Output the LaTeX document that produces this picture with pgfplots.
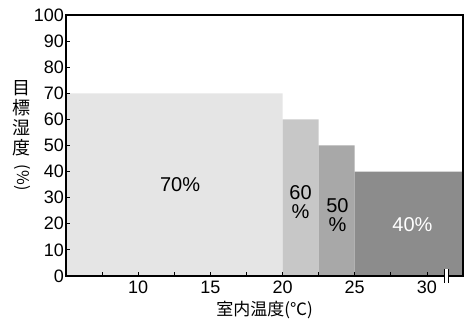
\documentclass[border=0pt]{standalone}
\usepackage{pgfplots}
\pgfplotsset{compat=1.18}
\usepackage{fontspec}
\setmainfont{Liberation Sans}
\newfontfamily\jp{Noto Sans CJK JP}
\definecolor{cA}{gray}{0.90}
\definecolor{cB}{gray}{0.78}
\definecolor{cC}{gray}{0.66}
\definecolor{cD}{gray}{0.55}
\begin{document}
\begin{tikzpicture}
\begin{axis}[
  scale only axis, width=397pt, height=261pt,
  at={(0,0)}, anchor=south west,
  xmin=5, xmax=32.5, ymin=0, ymax=100,
  axis line style={line width=1.6pt},
  xtick={10,15,20,25,30}, minor xtick={7.5,12.5,17.5,22.5,27.5},
  ytick={0,10,...,100},
  tick pos=left, tick align=inside,
  major tick length=4pt, minor tick length=4pt,
  every tick/.style={black, line width=0.8pt},
  every minor tick/.style={black, line width=0.8pt},
  ticklabel style={font=\fontsize{18}{18}\selectfont},
  /pgf/number format/assume math mode=true,
  yticklabel style={inner sep=1pt, xshift=-1pt},
  xticklabel style={inner sep=1pt, yshift=-4pt},
  axis on top,
  clip=false,
]
\addplot[fill=cA, draw=none] coordinates {(5,0) (5,70) (20,70) (20,0)} \closedcycle;
\addplot[fill=cB, draw=none] coordinates {(20,0) (20,60) (22.5,60) (22.5,0)} \closedcycle;
\addplot[fill=cC, draw=none] coordinates {(22.5,0) (22.5,50) (25,50) (25,0)} \closedcycle;
\addplot[fill=cD, draw=none] coordinates {(25,0) (25,40) (32.5,40) (32.5,0)} \closedcycle;
\node[font=\fontsize{20}{20}\selectfont] at (axis cs:12.9,35) {70\%};
\node[font=\fontsize{20}{20}\selectfont] at (axis cs:21.25,31.8) {60};
\node[font=\fontsize{20}{20}\selectfont] at (axis cs:21.25,24.5) {\%};
\node[font=\fontsize{20}{20}\selectfont] at (axis cs:23.8,26.8) {50};
\node[font=\fontsize{20}{20}\selectfont] at (axis cs:23.8,19.5) {\%};
\node[font=\fontsize{20}{20}\selectfont, text=white] at (axis cs:29.0,19.5) {40\%};
\coordinate (br) at (axis cs:31.35,0);
\coordinate (yl) at (rel axis cs:0,0.53);
\coordinate (xl) at (rel axis cs:0.5,0);
\end{axis}
\fill[white] ([xshift=-1.6pt,yshift=-7pt]br) rectangle ([xshift=1.6pt,yshift=7pt]br);
\draw[line width=0.8pt] ([xshift=-1.6pt,yshift=-7pt]br) -- ([xshift=-1.6pt,yshift=7pt]br);
\draw[line width=0.8pt] ([xshift=1.6pt,yshift=-7pt]br) -- ([xshift=1.6pt,yshift=7pt]br);
\begin{scope}[every node/.style={font=\jp\fontsize{18}{18}\selectfont, inner sep=0pt}]
\node at ([xshift=-44pt,yshift=50pt]yl) {目};
\node at ([xshift=-44pt,yshift=30pt]yl) {標};
\node at ([xshift=-44pt,yshift=10pt]yl) {湿};
\node at ([xshift=-44pt,yshift=-10pt]yl) {度};
\node[font=\jp\fontsize{16}{16}\selectfont, rotate=-90] at ([xshift=-44pt,yshift=-40pt]yl) {(\%)};
\node[font=\jp\fontsize{17}{17}\selectfont] at ([yshift=-34pt]xl) {室内温度(℃)};
\end{scope}
\pgfresetboundingbox
\path (-66pt,-44pt) rectangle (399pt,276pt);
\end{tikzpicture}
\end{document}
